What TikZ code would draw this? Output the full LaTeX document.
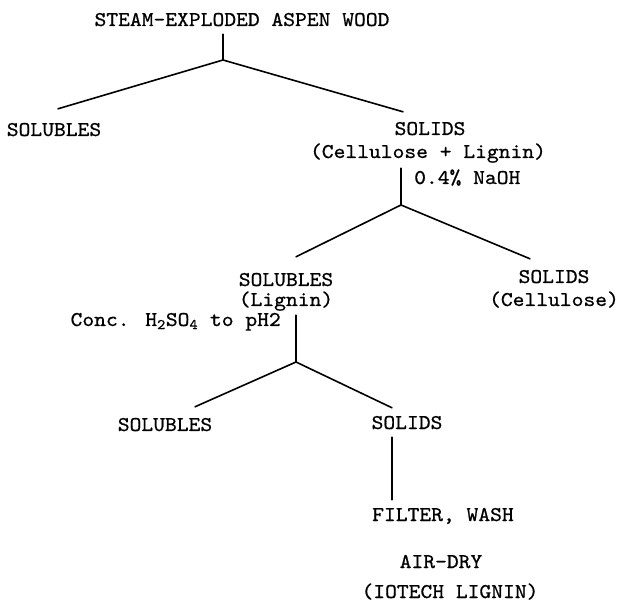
\documentclass[tikz,border=0pt]{standalone}
\usepackage{fontspec}
\newfontfamily\twfont{lmmono10-regular.otf}[FakeStretch=1.07,FakeBold=0.7]
\begin{document}
\begin{tikzpicture}[x=1pt,y=-1pt,
  lbl/.style={font=\twfont\fontsize{21}{24}\selectfont, inner sep=0pt, text height=11pt, text depth=0pt, anchor=base},
  link/.style={line width=1.6pt, line cap=round}]
\useasboundingbox (0,0) rectangle (622,604);
% junction points
\coordinate (j1) at (223,60);
\coordinate (j2) at (401,205);
\coordinate (j3) at (296,362);
% texts
\node[lbl] (title) at (242,26) {STEAM-EXPLODED ASPEN WOOD};
\node[lbl] (solA) at (54,136) {SOLUBLES};
\node[lbl] (sldA) at (430,135) {SOLIDS};
\node[lbl] (cellA) at (428,158) {(Cellulose + Lignin)};
\node[lbl, anchor=base west] (naoh) at (414,184) {0.4\% NaOH};
\node[lbl] (solB) at (286,286) {SOLUBLES};
\node[lbl] (lig) at (286,306) {(Lignin)};
\node[lbl] (sldB) at (554,283) {SOLIDS};
\node[lbl] (cellB) at (554,306) {(Cellulose)};
\node[lbl, anchor=base east] (conc) at (281,326) {Conc. H\textsubscript{2}SO\textsubscript{4} to pH2};
\node[lbl] (solC) at (165,431) {SOLUBLES};
\node[lbl] (sldC) at (407,429) {SOLIDS};
\node[lbl, anchor=base west] (filt) at (372,521) {FILTER, WASH};
\node[lbl] (air) at (441,568) {AIR-DRY};
\node[lbl] (iot) at (450,598) {(IOTECH LIGNIN)};
% connectors
\draw[link] ([yshift=-8pt]title.south -| j1) -- (j1);
\draw[link] (j1) -- ([xshift=4pt,yshift=16pt]solA.north);
\draw[link] (j1) -- ([xshift=-27pt,yshift=12pt]sldA.north);
\draw[link] ([yshift=-10pt]cellA.south -| j2) -- (j2);
\draw[link] (j2) -- ([xshift=10pt,yshift=18pt]solB.north);
\draw[link] (j2) -- ([xshift=-24pt,yshift=13pt]sldB.north);
\draw[link] ([yshift=-9pt]lig.south -| j3) -- (j3);
\draw[link] (j3) -- ([xshift=30pt,yshift=13pt]solC.north);
\draw[link] (j3) -- ([xshift=-15pt,yshift=10pt]sldC.north);
\draw[link] ([xshift=-15pt,yshift=-8pt]sldC.south) -- ([xshift=-15pt,yshift=10pt]sldC.south |- filt.north);
\end{tikzpicture}
\end{document}
